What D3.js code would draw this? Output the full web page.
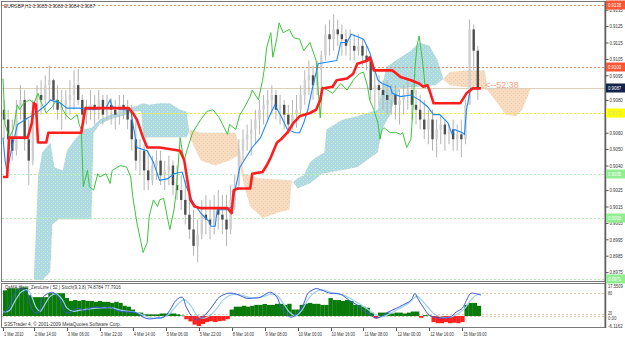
<!DOCTYPE html>
<html>
<head>
<meta charset="utf-8">
<script src="https://cdn.jsdelivr.net/npm/d3@7"></script>
<style>
  body { margin: 0; background: #fff; }
  svg { display: block; font-family: "Liberation Sans", Arial, sans-serif; }
</style>
</head>
<body>
<svg width="625" height="339"></svg>
<script>
// EURGBP H1 with Ichimoku, OsMA and Stochastic
// ---------------------------------------------------------------------------
var symbol = 'EURGBP,H1';
var lastOhlc = [0.9085, 0.9088, 0.9084, 0.9087];

// candles, one per two hours (bar index = 2 * i)
var firstOpen = 0.9074;
var highs = [0.9080,0.9074,0.9068,0.9080,0.9089,0.9086,0.9068,0.9080,0.9089,0.9092,
  0.9095,0.9101,0.9093,0.9089,0.9086,0.9086,0.9092,0.9098,0.9099,0.9083,
  0.9080,0.9086,0.9083,0.9086,0.9083,0.9083,0.9081,0.9080,0.9083,0.9083,
  0.9080,0.9077,0.9068,0.9056,0.9053,0.9049,0.9046,0.9049,0.9049,0.9043,
  0.9046,0.9043,0.9040,0.9034,0.9031,0.9019,0.9013,0.9007,0.9019,0.9022,
  0.9019,0.9022,0.9025,0.9022,0.9022,0.9028,0.9034,0.9056,0.9062,0.9065,
  0.9068,0.9074,0.9080,0.9083,0.9086,0.9089,0.9086,0.9083,0.9080,0.9077,
  0.9080,0.9083,0.9089,0.9098,0.9104,0.9101,0.9104,0.9110,0.9126,0.9129,
  0.9132,0.9129,0.9126,0.9123,0.9123,0.9120,0.9120,0.9117,0.9113,0.9107,
  0.9098,0.9095,0.9092,0.9092,0.9089,0.9089,0.9086,0.9089,0.9092,0.9089,
  0.9086,0.9083,0.9080,0.9074,0.9074,0.9068,0.9071,0.9068,0.9065,0.9068,
  0.9065,0.9068,0.9080,0.9129,0.9126,0.9113];
var lows = [0.9056,0.9049,0.9043,0.9046,0.9068,0.9049,0.9028,0.9040,0.9068,0.9071,
  0.9074,0.9080,0.9074,0.9068,0.9062,0.9068,0.9071,0.9074,0.9077,0.9062,
  0.9065,0.9068,0.9065,0.9068,0.9065,0.9068,0.9065,0.9062,0.9065,0.9068,
  0.9062,0.9049,0.9037,0.9034,0.9025,0.9025,0.9028,0.9031,0.9028,0.9025,
  0.9028,0.9022,0.9019,0.9013,0.9004,0.8995,0.8985,0.8981,0.8995,0.8998,
  0.8995,0.8998,0.9001,0.8998,0.8991,0.8998,0.9013,0.9025,0.9043,0.9049,
  0.9046,0.9053,0.9059,0.9065,0.9068,0.9071,0.9068,0.9065,0.9062,0.9059,
  0.9062,0.9063,0.9071,0.9077,0.9083,0.9080,0.9083,0.9086,0.9104,0.9107,
  0.9110,0.9113,0.9107,0.9107,0.9104,0.9104,0.9107,0.9101,0.9098,0.9080,
  0.9074,0.9077,0.9074,0.9071,0.9071,0.9068,0.9065,0.9071,0.9074,0.9068,
  0.9065,0.9062,0.9056,0.9053,0.9049,0.9045,0.9053,0.9049,0.9053,0.9049,
  0.9049,0.9045,0.9053,0.9080,0.9098,0.9080];
var closes = [0.9068,0.9056,0.9049,0.9074,0.9080,0.9056,0.9043,0.9074,0.9083,0.9080,
  0.9089,0.9092,0.9080,0.9074,0.9077,0.9080,0.9083,0.9089,0.9080,0.9071,
  0.9074,0.9077,0.9074,0.9080,0.9071,0.9077,0.9074,0.9071,0.9077,0.9074,
  0.9068,0.9056,0.9043,0.9049,0.9037,0.9031,0.9040,0.9043,0.9034,0.9037,
  0.9040,0.9028,0.9025,0.9019,0.9010,0.9001,0.8991,0.8998,0.9010,0.9007,
  0.9004,0.9013,0.9010,0.9007,0.9001,0.9019,0.9028,0.9049,0.9056,0.9059,
  0.9062,0.9068,0.9074,0.9077,0.9080,0.9083,0.9074,0.9077,0.9071,0.9065,
  0.9071,0.9074,0.9083,0.9092,0.9095,0.9089,0.9098,0.9107,0.9120,0.9117,
  0.9123,0.9120,0.9117,0.9113,0.9113,0.9110,0.9113,0.9107,0.9104,0.9086,
  0.9089,0.9086,0.9083,0.9080,0.9083,0.9077,0.9080,0.9083,0.9086,0.9077,
  0.9074,0.9068,0.9062,0.9068,0.9056,0.9062,0.9065,0.9059,0.9062,0.9056,
  0.9059,0.9056,0.9077,0.9123,0.9110,0.9087];

// ichimoku lines as [bar, price]
var tenkan = [[0,0.9057],[1,0.9043],[2,0.9036],[4,0.9049],[7,0.9065],[12,0.9069],[15,0.9071],[18,0.9074],
  [21,0.9077],[23,0.9080],[28,0.9078],[31,0.9075],[37,0.9075],[44,0.9074],[50,0.9075],[52,0.9080],[53,0.9076],
  [57,0.9074],[62,0.9074],[63,0.9066],[65,0.9051],[70,0.9049],[73,0.9042],[76,0.9031],[80,0.9032],[83,0.9035],
  [87,0.9036],[89,0.9027],[92,0.9018],[96,0.9011],[100,0.9006],[101,0.9003],[103,0.9003],[104,0.9013],
  [109,0.9013],[111,0.9015],[112,0.9021],[114,0.9033],[115,0.9039],[118,0.9045],[121,0.9051],[125,0.9057],
  [128,0.9066],[130,0.9072],[132,0.9077],[135,0.9070],[138,0.9062],[142,0.9060],[144,0.9060],[146,0.9066],
  [148,0.9074],[150,0.9086],[153,0.9102],[157,0.9103],[162,0.9104],[164,0.9115],[167,0.9115],[169,0.9120],
  [173,0.9118],[175,0.9117],[177,0.9112],[178,0.9109],[180,0.9100],[182,0.9092],[184,0.9090],[188,0.9088],
  [189,0.9084],[193,0.9082],[198,0.9083],[202,0.9080],[206,0.9076],[209,0.9071],[212,0.9071],[216,0.9066],
  [218,0.9059],[219,0.9062],[223,0.9060],[224,0.9059],[225,0.9074],[227,0.9087],[231,0.9087]];
var kijun = [[0,0.9033],[2,0.9033],[3,0.9057],[12,0.9057],[14,0.9066],[15,0.9078],[16,0.9077],[17,0.9054],
  [21,0.9054],[22,0.9060],[38,0.9060],[40,0.9075],[61,0.9075],[63,0.9072],[65,0.9068],[68,0.9057],[70,0.9051],
  [76,0.9051],[86,0.9049],[88,0.9043],[91,0.9019],[93,0.9015],[96,0.9014],[109,0.9014],[111,0.9011],
  [112,0.9025],[114,0.9026],[120,0.9026],[121,0.9035],[126,0.9036],[128,0.9040],[130,0.9045],[133,0.9054],
  [135,0.9056],[138,0.9060],[141,0.9066],[144,0.9070],[149,0.9072],[152,0.9074],[154,0.9080],[155,0.9087],
  [160,0.9088],[162,0.9092],[167,0.9093],[170,0.9096],[172,0.9102],[177,0.9104],[178,0.9106],[179,0.9103],
  [180,0.9098],[189,0.9098],[193,0.9094],[198,0.9092],[202,0.9090],[204,0.9088],[206,0.9089],[207,0.9086],
  [209,0.9078],[222,0.9078],[223,0.9080],[225,0.9084],[228,0.9087],[232,0.9087]];
var chikou = [[0,0.9093],[1,0.9065],[3,0.9057],[5,0.9062],[7,0.9077],[8,0.9074],[10,0.9078],[13,0.9080],
  [15,0.9078],[17,0.9084],[18,0.9080],[21,0.9072],[24,0.9076],[26,0.9080],[28,0.9078],[29,0.9074],[31,0.9070],
  [33,0.9068],[36,0.9071],[37,0.9065],[38,0.9062],[39,0.9027],[41,0.9037],[42,0.9027],[44,0.9025],[46,0.9035],
  [47,0.9033],[50,0.9035],[52,0.9029],[53,0.9037],[57,0.9040],[60,0.9039],[62,0.9033],[63,0.9021],[65,0.9005],
  [67,0.8993],[68,0.8987],[70,0.8993],[71,0.9009],[73,0.9019],[75,0.9015],[76,0.9019],[78,0.9020],[80,0.9007],
  [81,0.9001],[83,0.9013],[84,0.9023],[86,0.9057],[87,0.9049],[88,0.9043],[89,0.9048],[92,0.9060],[96,0.9068],
  [99,0.9073],[102,0.9074],[105,0.9069],[109,0.9059],[110,0.9065],[113,0.9062],[115,0.9071],[117,0.9075],
  [120,0.9082],[121,0.9086],[124,0.9080],[126,0.9092],[127,0.9100],[128,0.9112],[130,0.9121],[131,0.9106],
  [133,0.9118],[134,0.9127],[136,0.9121],[139,0.9123],[141,0.9118],[144,0.9117],[146,0.9110],[149,0.9115],
  [152,0.9104],[154,0.9069],[155,0.9088],[160,0.9084],[164,0.9090],[167,0.9086],[170,0.9092],[173,0.9096],
  [175,0.9097],[177,0.9088],[178,0.9080],[180,0.9074],[182,0.9066],[183,0.9056],[184,0.9062],[185,0.9063],
  [188,0.9060],[191,0.9060],[193,0.9059],[194,0.9060],[196,0.9051],[198,0.9056],[199,0.9074],[200,0.9100],
  [201,0.9113],[202,0.9119],[203,0.9110],[204,0.9100],[205,0.9087]];
var spanA = [[15,0.8973],[16,0.9001],[17,0.9033],[19,0.9048],[23,0.9054],[25,0.9039],[29,0.9037],[31,0.9049],
  [35,0.9056],[39,0.9062],[43,0.9063],[47,0.9068],[52,0.9071],[60,0.9074],[64,0.9076],[68,0.9078],[71,0.9077],
  [76,0.9078],[81,0.9078],[86,0.9074],[89,0.9073],[91,0.9056],[96,0.9043],[103,0.9040],[110,0.9043],
  [114,0.9046],[117,0.9028],[120,0.9015],[126,0.9008],[133,0.9011],[139,0.9013],[140,0.9029],[143,0.9032],
  [146,0.9034],[149,0.9042],[152,0.9045],[156,0.9048],[157,0.9062],[165,0.9068],[172,0.9070],[182,0.9074],
  [186,0.9100],[193,0.9106],[198,0.9110],[202,0.9115],[207,0.9113],[211,0.9104],[214,0.9092],[217,0.9089],
  [222,0.9088],[232,0.9087],[235,0.9086],[239,0.9080],[244,0.9071],[249,0.9070],[252,0.9074],[255,0.9083],
  [256,0.9087]];
var spanB = [[15,0.8970],[19,0.8970],[23,0.8975],[24,0.9004],[27,0.9007],[43,0.9007],[44,0.9060],[47,0.9065],
  [52,0.9068],[60,0.9071],[64,0.9073],[67,0.9073],[68,0.9057],[89,0.9057],[91,0.9062],[96,0.9060],[113,0.9060],
  [115,0.9049],[117,0.9035],[125,0.9032],[140,0.9031],[143,0.9026],[149,0.9029],[155,0.9035],[164,0.9037],
  [172,0.9039],[182,0.9048],[184,0.9062],[188,0.9071],[190,0.9080],[193,0.9087],[210,0.9089],[214,0.9093],
  [217,0.9097],[224,0.9098],[234,0.9098],[235,0.9087],[256,0.9087]];

// horizontal price lines
var alertLevels = [0.9138, 0.9100];
var bidPrice = 0.9087;
var yellowLevel = 0.9072;
var greenLevels = [0.9035, 0.9008, 0.8971];
var timerText = '<--52:38';

// price axis
var priceTicks = [0.9135,0.9125,0.9115,0.9105,0.9095,0.9080,0.9060,0.9050,0.9040,
  0.9025,0.9015,0.9005,0.8995,0.8985,0.8975];

// time axis
var timeTicks = [0,15,31,47,63,79,95,111,127,143,159,175,191,207,223];
var timeLabels = ['1 Mar 2010','2 Mar 14:00','3 Mar 06:00','3 Mar 22:00','4 Mar 14:00','5 Mar 06:00',
  '5 Mar 22:00','8 Mar 16:00','9 Mar 08:00','10 Mar 00:00','10 Mar 16:00','11 Mar 08:00',
  '12 Mar 00:00','12 Mar 16:00','15 Mar 09:00'];

// sub window: OsMA histogram (one per candle) and Stochastic
var osma = [14.3,15.4,15.4,15.4,15.9,15.9,11.6,10.5,10.5,10.5,
  10.5,12.7,12.7,12.7,12.7,10.0,8.4,8.9,8.4,8.9,
  8.4,8.4,7.9,8.4,7.9,7.9,7.3,7.9,7.3,5.7,
  5.2,3.6,1.9,1.9,0.9,0.9,0.9,0.9,1.4,1.4,
  1.4,1.4,0.9,0.3,-1.8,-3.0,-4.8,-5.6,-4.5,-3.4,
  -2.9,-3.4,-2.9,-2.6,-1.8,3.6,5.2,5.2,5.7,5.2,
  5.7,6.2,6.2,6.7,6.2,6.2,6.8,6.8,6.2,6.8,
  3.6,3.6,6.2,6.8,7.3,6.8,6.8,6.2,6.2,10.0,
  8.9,8.9,8.4,8.9,8.4,6.2,6.2,5.2,4.6,1.9,
  -1.3,1.9,1.9,1.9,1.4,1.9,1.9,1.4,1.9,2.5,
  2.5,-1.0,0.5,0.3,-3.4,-4.0,-4.0,-3.4,-4.0,-3.7,
  -4.0,-3.4,6.2,7.3,7.3,5.7];
var osmaRange = [-6.1162, 17.5509];
var stochMain = [[0,23],[2,31],[5,69],[7,89],[10,94],[12,80],[13,51],[15,26],[17,23],[18,31],[19,66],[22,80],
  [24,83],[27,69],[29,40],[30,26],[31,23],[33,26],[36,37],[40,31],[42,37],[46,40],[49,37],[52,40],[55,31],
  [60,26],[63,26],[65,23],[68,11],[71,6],[75,9],[78,11],[81,31],[84,60],[87,69],[89,40],[92,11],[94,3],[96,9],
  [99,23],[102,46],[105,69],[109,80],[112,80],[115,74],[118,66],[121,66],[125,69],[128,80],[130,83],[133,69],
  [135,40],[138,17],[140,11],[143,23],[146,51],[148,80],[150,89],[152,94],[155,89],[159,80],[162,80],[165,74],
  [168,60],[172,46],[175,31],[177,23],[181,9],[183,11],[186,23],[191,37],[194,46],[198,60],[200,80],[201,69],
  [204,40],[207,17],[211,9],[214,9],[217,11],[220,26],[223,37],[225,60],[227,80],[229,80],[232,75]];
var stochSignal = [[0,26],[3,30],[6,60],[9,85],[12,90],[14,70],[16,40],[18,28],[20,45],[23,72],[26,78],[29,60],
  [31,38],[34,28],[38,32],[43,36],[48,38],[53,38],[58,30],[64,26],[68,17],[72,9],[77,9],[81,22],[85,50],[88,62],
  [91,45],[94,18],[97,8],[101,18],[104,38],[107,62],[111,76],[115,76],[120,68],[126,70],[130,78],[133,74],
  [136,52],[139,26],[142,15],[145,30],[148,62],[151,82],[155,90],[160,82],[165,76],[169,64],[173,50],[177,34],
  [181,18],[184,12],[188,22],[193,38],[197,52],[201,72],[203,62],[206,42],[209,22],[213,11],[217,11],[221,22],
  [224,35],[227,60],[230,76],[232,78]];
var stochLevels = [80, 20];

var svg = d3.select('svg');

// scales
var x = d3.scaleLinear().domain([0, 290]).range([3, 600.4]);
var y = d3.scaleLinear().domain([0.8975, 0.9135]).range([272.1, 9.7]);
var yOs = d3.scaleLinear().domain(osmaRange).range([327, 284.5]);
var ySt = d3.scaleLinear().domain([0, 100]).range([321, 286.5]);

var axisX = 605;
var fmt4 = d3.format('.4f');

// the terminal font is squeezed: scale each label horizontally to a fixed width per character
function squeeze(sel, perChar) {
  sel.each(function () {
    var t = d3.select(this);
    var x0 = +t.attr('x') || 0, y0 = +t.attr('y') || 0;
    var w = this.getComputedTextLength();
    var s = w > 0 ? Math.min(1, t.text().length * perChar / w) : 1;
    t.attr('x', 0).attr('y', 0)
      .attr('transform', 'translate(' + x0 + ',' + y0 + ') scale(' + s + ',1)');
  });
  return sel;
}

// defs: cloud patterns, clips
var defs = svg.append('defs');
function dotPattern(id, bg, dot) {
  var p = defs.append('pattern').attr('id', id)
    .attr('width', 4).attr('height', 4).attr('patternUnits', 'userSpaceOnUse');
  p.append('rect').attr('width', 4).attr('height', 4).attr('fill', bg);
  p.append('rect').attr('x', 1).attr('y', 1).attr('width', 1).attr('height', 1).attr('fill', dot);
  p.append('rect').attr('x', 3).attr('y', 3).attr('width', 1).attr('height', 1).attr('fill', dot);
}
dotPattern('kumoUp', '#acd9e4', '#cfeec4');
dotPattern('kumoDn', '#f8dcc2', '#eccaa8');

defs.append('clipPath').attr('id', 'mainClip')
  .append('rect').attr('x', 2).attr('y', 2).attr('width', axisX - 2).attr('height', 279);
defs.append('clipPath').attr('id', 'subClip')
  .append('rect').attr('x', 2).attr('y', 284).attr('width', axisX - 2).attr('height', 43);

var ptsB = spanB.map(function (d) { return x(d[0]) + ',' + y(d[1]); });
var bx0 = x(spanB[0][0]), bx1 = x(spanB[spanB.length - 1][0]);
defs.append('clipPath').attr('id', 'aboveB').append('path')
  .attr('d', 'M' + bx0 + ',0L' + ptsB.join('L') + 'L' + bx1 + ',0Z');
defs.append('clipPath').attr('id', 'belowB').append('path')
  .attr('d', 'M' + bx0 + ',340L' + ptsB.join('L') + 'L' + bx1 + ',340Z');

// background
svg.append('rect').attr('width', 625).attr('height', 339).attr('fill', '#fff');

var main = svg.append('g').attr('clip-path', 'url(#mainClip)');

// kumo between span A and span B
var between = 'M' + spanA.map(function (d) { return x(d[0]) + ',' + y(d[1]); }).join('L') +
  'L' + ptsB.slice().reverse().join('L') + 'Z';
main.append('g').attr('clip-path', 'url(#aboveB)')
  .append('path').attr('d', between).attr('fill', 'url(#kumoUp)');
main.append('g').attr('clip-path', 'url(#belowB)')
  .append('path').attr('d', between).attr('fill', 'url(#kumoDn)');

// price level lines
function hline(p, color, dash) {
  main.append('line').attr('x1', 2).attr('x2', axisX)
    .attr('y1', Math.round(y(p)) + 0.5).attr('y2', Math.round(y(p)) + 0.5)
    .attr('stroke', color).attr('stroke-width', 1).attr('stroke-dasharray', dash);
}
alertLevels.forEach(function (p) { hline(p, '#f08a6a', '2,2'); });
greenLevels.forEach(function (p) { hline(p, '#b4ecb4', '2,2'); });
hline(yellowLevel, '#eeee20', '2,2');
hline(bidPrice, '#ddd0b8', null);

// candles
var candles = closes.map(function (c, i) {
  var o = i === 0 ? firstOpen : closes[i - 1];
  return { bar: 2 * i + 0.5, o: o, h: highs[i], l: lows[i], c: c };
});
var cg = main.append('g');
cg.selectAll('line').data(candles).enter().append('line')
  .attr('x1', function (d) { return x(d.bar); })
  .attr('x2', function (d) { return x(d.bar); })
  .attr('y1', function (d) { return y(Math.max(d.h, d.o, d.c)); })
  .attr('y2', function (d) { return y(Math.min(d.l, d.o, d.c)); })
  .attr('stroke', '#b4b4b4').attr('stroke-width', 1);
cg.selectAll('rect').data(candles).enter().append('rect')
  .attr('x', function (d) { return x(d.bar) - 1.2; })
  .attr('width', 2.4)
  .attr('y', function (d) { return y(Math.max(d.o, d.c)); })
  .attr('height', function (d) { return Math.max(1, y(Math.min(d.o, d.c)) - y(Math.max(d.o, d.c))); })
  .attr('fill', function (d) { return d.c >= d.o ? '#cfcfcf' : '#4e4e4e'; });

// ichimoku lines
var line = d3.line().x(function (d) { return x(d[0]); }).y(function (d) { return y(d[1]); });
main.append('path').attr('d', line(chikou)).attr('fill', 'none')
  .attr('stroke', '#3cc43c').attr('stroke-width', 1);
main.append('path').attr('d', line(tenkan)).attr('fill', 'none')
  .attr('stroke', '#2088f0').attr('stroke-width', 1.1);
main.append('path').attr('d', line(kijun)).attr('fill', 'none')
  .attr('stroke', '#ff1e1e').attr('stroke-width', 2.6).attr('stroke-linejoin', 'round');

// countdown label
svg.append('text').attr('x', x(233) + 2).attr('y', y(bidPrice))
  .attr('font-size', 9).attr('fill', '#f2a080').text(timerText);

// header
squeeze(svg.append('text').attr('x', 4).attr('y', 7.5).attr('font-size', 5.5).attr('fill', '#333')
  .text(symbol + '  ' + lastOhlc.map(fmt4).join(' ')), 2.4);

// sub window
var sub = svg.append('g').attr('clip-path', 'url(#subClip)');
sub.selectAll('line.lvl').data(stochLevels).enter().append('line').attr('class', 'lvl')
  .attr('x1', 2).attr('x2', axisX)
  .attr('y1', function (d) { return Math.round(ySt(d)) + 0.5; })
  .attr('y2', function (d) { return Math.round(ySt(d)) + 0.5; })
  .attr('stroke', '#dccbb0').attr('stroke-dasharray', '2,2');
sub.append('line').attr('x1', 2).attr('x2', axisX)
  .attr('y1', Math.round(yOs(0)) + 0.5).attr('y2', Math.round(yOs(0)) + 0.5)
  .attr('stroke', '#dccbb0').attr('stroke-dasharray', '2,2');

sub.selectAll('rect.os').data(osma).enter().append('rect').attr('class', 'os')
  .attr('x', function (d, i) { return x(2 * i); })
  .attr('width', x(2) - x(0) + 0.2)
  .attr('y', function (d) { return Math.min(yOs(d), yOs(0)); })
  .attr('height', function (d) { return Math.abs(yOs(d) - yOs(0)); })
  .attr('fill', function (d) { return d >= 0 ? '#0a7a0a' : '#ff2020'; });

var stLine = d3.line().curve(d3.curveCatmullRom)
  .x(function (d) { return x(d[0]); }).y(function (d) { return ySt(d[1]); });
sub.append('path').attr('d', stLine(stochSignal)).attr('fill', 'none')
  .attr('stroke', '#9cd0f0').attr('stroke-width', 1.2);
sub.append('path').attr('d', stLine(stochMain)).attr('fill', 'none')
  .attr('stroke', '#3858d8').attr('stroke-width', 1);

squeeze(svg.append('text').attr('x', 5).attr('y', 288.5).attr('font-size', 5.5).attr('fill', '#333')
  .text('OsMA  Histo_ZeroLine ( 52 )   Stoch(9,3,8) 74.8784 77.7916'), 2.0);
squeeze(svg.append('text').attr('x', 4).attr('y', 325.5).attr('font-size', 5.5).attr('fill', '#333')
  .text('S3STrader 4, \u00a9 2001-2009 MetaQuotes Software Corp.'), 2.35);

// frames
var frame = svg.append('g').attr('fill', 'none').attr('stroke', '#7a7a7a');
frame.append('rect').attr('x', 1.5).attr('y', 1.5).attr('width', axisX - 1.5).attr('height', 280);
frame.append('rect').attr('x', 1.5).attr('y', 283.5).attr('width', axisX - 1.5).attr('height', 44);
svg.append('line').attr('x1', axisX + 0.5).attr('x2', axisX + 0.5).attr('y1', 1).attr('y2', 328)
  .attr('stroke', '#606060').attr('stroke-width', 1.5);

// price axis
var yAxis = d3.axisRight(y).tickValues(priceTicks).tickFormat(fmt4).tickSize(3).tickPadding(1).tickSizeOuter(0);
var ga = svg.append('g').attr('transform', 'translate(' + (axisX + 0.5) + ',0)').call(yAxis);
ga.select('.domain').remove();
squeeze(ga.selectAll('text').attr('font-size', 5.5).attr('fill', '#333').attr('font-family', null), 2.2);
ga.selectAll('line').attr('stroke', '#555');

// price tags on the axis
function tag(p, bg, fg) {
  var yy = Math.round(y(p));
  svg.append('rect').attr('x', axisX + 1).attr('y', yy - 4.5).attr('width', 19).attr('height', 9).attr('fill', bg);
  squeeze(svg.append('text').attr('x', axisX + 3).attr('y', yy + 2.2).attr('font-size', 5.5)
    .attr('fill', fg).text(fmt4(p)), 2.2);
}
alertLevels.forEach(function (p) { tag(p, '#ff5533', '#fff'); });
tag(bidPrice, '#13244a', '#fff');
tag(yellowLevel, '#ffff00', '#d8d8a0');
greenLevels.forEach(function (p) { tag(p, '#90ee90', '#fff'); });

// sub window axis labels
var subLabels = [[yOs(osmaRange[1]) + 3.5, '17.5509'], [ySt(80) + 2, '80'], [ySt(20) + 1, '20'],
  [yOs(0) + 4, '0.00'], [yOs(osmaRange[0]) + 0.5, '-6.1162']];
squeeze(svg.selectAll('text.sublab').data(subLabels).enter().append('text').attr('class', 'sublab')
  .attr('x', axisX + 3).attr('y', function (d) { return d[0]; })
  .attr('font-size', 5.5).attr('fill', '#333').text(function (d) { return d[1]; }), 2.1);

// time axis
var gt = svg.append('g');
gt.selectAll('line').data(timeTicks).enter().append('line')
  .attr('x1', function (d) { return Math.round(x(d)) + 0.5; })
  .attr('x2', function (d) { return Math.round(x(d)) + 0.5; })
  .attr('y1', 328).attr('y2', 331).attr('stroke', '#555');
squeeze(gt.selectAll('text').data(timeTicks).enter().append('text')
  .attr('x', function (d) { return x(d) + 1; }).attr('y', 335.5)
  .attr('font-size', 5.5).attr('fill', '#333')
  .text(function (d, i) { return timeLabels[i]; }), 1.95);
</script>
</body>
</html>
